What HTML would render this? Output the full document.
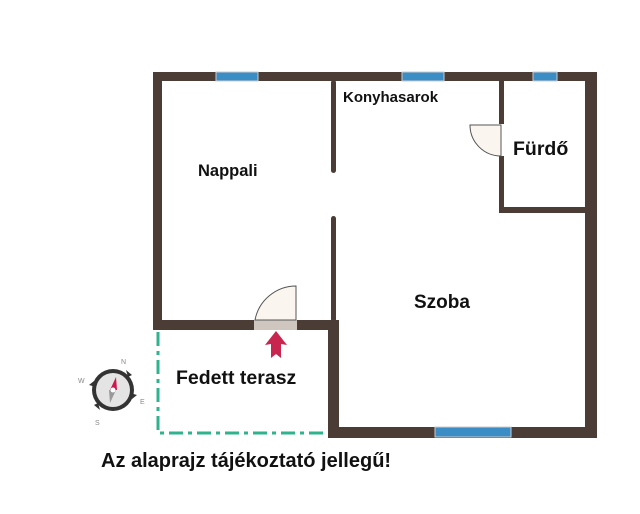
<!DOCTYPE html>
<html><head><style>
body{margin:0;background:#fff;width:640px;height:514px;overflow:hidden}
svg{display:block}
text{font-family:"Liberation Sans",sans-serif;font-weight:bold;fill:#111}
</style></head><body>
<svg width="640" height="514" viewBox="0 0 640 514">
<g fill="#4b3d35">
<rect x="153" y="72" width="444" height="9" rx="2"/>
<rect x="153" y="72" width="9" height="258"/>
<rect x="153" y="320" width="185" height="10"/>
<rect x="328" y="320" width="11" height="118"/>
<rect x="328" y="427" width="269" height="11"/>
<rect x="585" y="72" width="12" height="366"/>
<rect x="331" y="80" width="5" height="93" rx="2.5"/>
<rect x="331" y="216" width="5" height="106" rx="2.5"/>
<rect x="499" y="80" width="5" height="133"/>
<rect x="499" y="207" width="90" height="6"/>
</g>
<g fill="#3b8dc5" stroke="#ccc" stroke-width="1">
<rect x="216" y="72" width="42" height="9"/>
<rect x="402" y="72" width="42" height="9"/>
<rect x="533" y="72" width="24" height="9"/>
<rect x="435" y="427" width="76" height="10"/>
</g>
<rect x="499" y="124" width="5" height="32" fill="#fff"/>
<path d="M501 156 L501 125 L470 125 A31 31 0 0 0 501 156 Z" fill="#faf5ef" stroke="#555" stroke-width="1"/>
<rect x="254" y="320" width="43" height="10" fill="#cfc7bf"/>
<path d="M296 320 L296 286 A42 42 0 0 0 255 320 Z" fill="#faf5ef" stroke="#555" stroke-width="1"/>
<path d="M276 331 L287 345 L281 344 L281 358 L276 354 L271 358 L271 344 L265 345 Z" fill="#c8264f"/>
<path d="M158 332 V433 H328" fill="none" stroke="#2fb38d" stroke-width="3" stroke-dasharray="14 5 4 5"/>
<g transform="translate(113,390)">
<circle r="21" fill="#333"/>
<circle r="17" fill="#e4e4e4"/>
<path d="M-24 -5 L-19 -9 L-17 -3Z M13 -20 L19 -15 L15 -13Z M24 5 L19 9 L17 3Z M-13 20 L-19 15 L-15 13Z" fill="#333"/>
<path d="M3 -13 L4 0 L-3 0Z" fill="#d1164d"/>
<path d="M-3 13 L-4 0 L3 0Z" fill="#999"/>
<circle r="2.5" fill="#fff"/>
<text x="8" y="-26" font-size="7" style="fill:#888;font-weight:normal">N</text>
<text x="-35" y="-7" font-size="7" style="fill:#888;font-weight:normal">W</text>
<text x="27" y="14" font-size="7" style="fill:#888;font-weight:normal">E</text>
<text x="-18" y="35" font-size="7" style="fill:#888;font-weight:normal">S</text>
</g>
<text x="343" y="102" font-size="15">Konyhasarok</text>
<text x="198" y="176" font-size="16.5">Nappali</text>
<text x="513" y="155" font-size="19.5">Fürdő</text>
<text x="414" y="308" font-size="19">Szoba</text>
<text x="176" y="384" font-size="19.5">Fedett terasz</text>
<text x="101" y="467" font-size="20">Az alaprajz tájékoztató jellegű!</text>
</svg>
</body></html>
